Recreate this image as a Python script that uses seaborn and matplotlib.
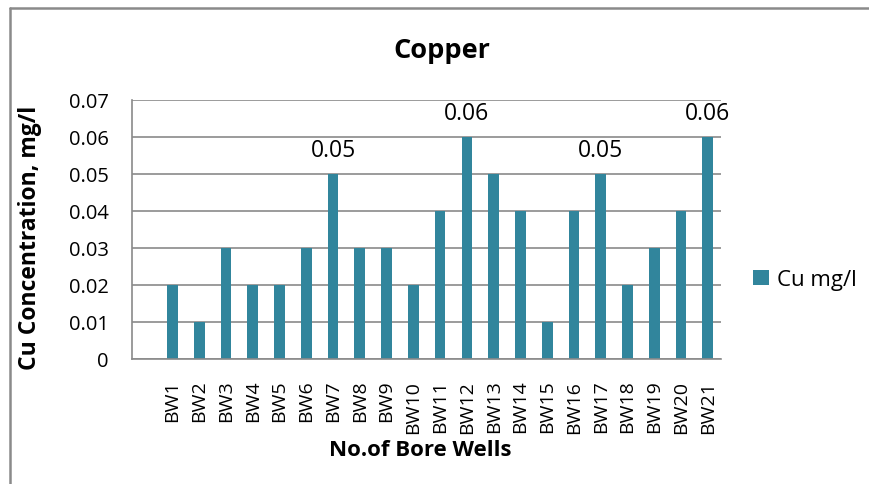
import matplotlib
matplotlib.use("Agg")
import matplotlib.pyplot as plt
from matplotlib.lines import Line2D
import numpy as np
import pandas as pd
import seaborn as sns

wells = ["BW1", "BW2", "BW3", "BW4", "BW5", "BW6", "BW7", "BW8", "BW9", "BW10",
         "BW11", "BW12", "BW13", "BW14", "BW15", "BW16", "BW17", "BW18", "BW19",
         "BW20", "BW21"]
cu = [0.02, 0.01, 0.03, 0.02, 0.02, 0.03, 0.05, 0.03, 0.03, 0.02,
      0.04, 0.06, 0.05, 0.04, 0.01, 0.04, 0.05, 0.02, 0.03, 0.04, 0.06]
labelled = ["BW7", "BW12", "BW17", "BW21"]
y_ticks = [0, 0.01, 0.02, 0.03, 0.04, 0.05, 0.06, 0.07]

BAR = "#31859C"
GRID = "#8a8a8a"

sns.set_style("white")
plt.rcParams['font.family'] = ['Open Sans', 'DejaVu Sans']
plt.rcParams['text.color'] = 'black'
plt.rcParams['axes.labelcolor'] = 'black'
plt.rcParams['xtick.labelcolor'] = 'black'
plt.rcParams['ytick.labelcolor'] = 'black'

df = pd.DataFrame({'Well': wells, 'Cu': cu})

fig = plt.figure(figsize=(8.7, 4.85), dpi=100)
ax = fig.add_axes([0.152, 0.258, 0.677, 0.534])

sns.barplot(data=df, x='Well', y='Cu', order=wells, color=BAR, width=0.4,
            saturation=1, linewidth=0, label="Cu mg/l", ax=ax)

ax.set_xlim(-1.5, len(wells) - 0.5)
ax.set_ylim(0, 0.07)
ax.set_yticks(y_ticks)
ax.set_yticklabels(["0" if v == 0 else f"{v:.2f}" for v in y_ticks])
ax.yaxis.grid(True, color=GRID, lw=1.2)
ax.set_axisbelow(True)

for s in ['top', 'right']:
    ax.spines[s].set_visible(False)
for s in ['left', 'bottom']:
    ax.spines[s].set_color(GRID)
    ax.spines[s].set_linewidth(1.2)

ax.set_xticks(range(len(wells)))
ax.set_xticklabels(wells, rotation=90)
ax.set_xticks(np.arange(-1.5, len(wells), 1), minor=True)
ax.tick_params(axis='x', which='major', length=0, pad=15, labelsize=14, labelcolor='black')
ax.tick_params(axis='x', which='minor', length=5, width=1.2, color=GRID, direction='out')
ax.tick_params(axis='y', which='major', length=6, width=1.2, color=GRID,
               direction='out', labelsize=14.5, pad=11, labelcolor='black')

for i, (w, v) in enumerate(zip(wells, cu)):
    if w in labelled:
        ax.annotate(f"{v:.2f}", (i, v), xytext=(0, 13), textcoords='offset points',
                    ha='center', va='baseline', fontsize=16.5, color='black')

ax.set_xlabel("No.of Bore Wells", fontsize=16, fontweight='bold', color='black')
ax.xaxis.set_label_coords(0.489, -0.31)
ax.set_ylabel("Cu Concentration, mg/l", fontsize=16.5, fontweight='bold', color='black')
ax.yaxis.set_label_coords(-0.153, 0.47)
fig.text(0.508, 0.895, "Copper", ha='center', va='center', fontsize=19.5,
         fontweight='bold', color='black')

ax.legend(loc='center left', bbox_to_anchor=(1.02, 0.305), frameon=False,
          fontsize=16, handlelength=0.7, handleheight=0.7, handletextpad=0.4,
          labelcolor='black')

fig.add_artist(Line2D([0.0115, 0.0115], [0, 0.981], color=GRID, lw=1.8))
fig.add_artist(Line2D([0.0115, 1], [0.981, 0.981], color=GRID, lw=1.8))

fig.savefig("out.png", dpi=100)
